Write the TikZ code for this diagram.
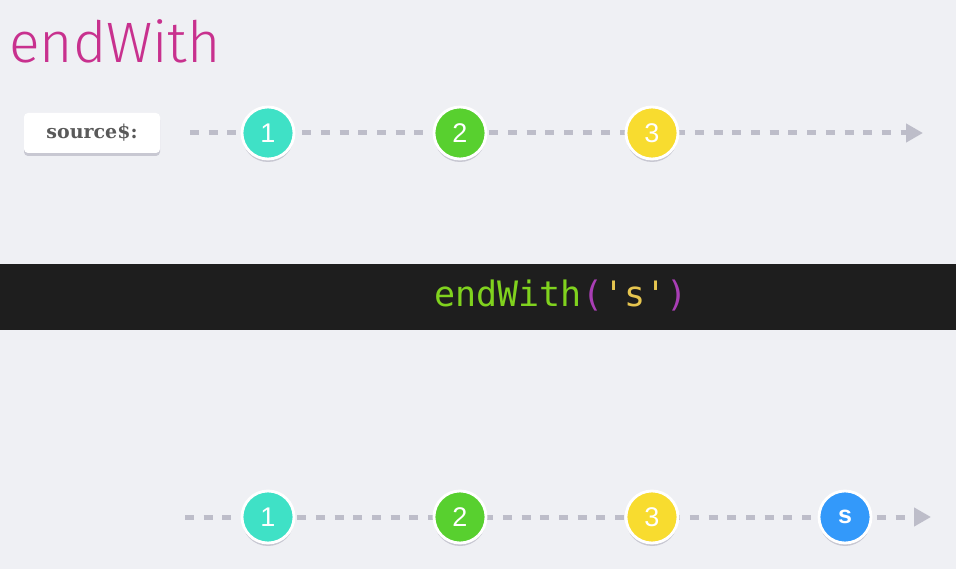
\documentclass[tikz,border=0pt]{standalone}
\usepackage{fontspec}
\setmainfont{Liberation Sans}
\newfontfamily\titlefont{Fira Sans Light}
\newfontfamily\codefont{DejaVu Sans Mono}
\newfontfamily\typefont{DejaVu Serif}
\usetikzlibrary{arrows.meta,shadows}
\definecolor{bg}{HTML}{EFF0F4}
\definecolor{titlec}{HTML}{C8318E}
\definecolor{linec}{HTML}{BDBDC9}
\definecolor{teal}{HTML}{3FE1C6}
\definecolor{grn}{HTML}{58D02F}
\definecolor{yel}{HTML}{F8DC2F}
\definecolor{blu}{HTML}{3399FA}
\definecolor{band}{HTML}{1E1E1E}
\definecolor{codegreen}{HTML}{80D21E}
\definecolor{codepurple}{HTML}{A93EB5}
\definecolor{codeyellow}{HTML}{E6C54F}
\definecolor{shadowc}{HTML}{C8C8D2}
\tikzset{
  marble/.style={circle, fill=#1, draw=white, line width=2.8pt, minimum size=52pt, inner sep=0pt,
    text=white, font=\fontsize{27}{27}\selectfont,
    drop shadow={shadow xshift=0pt, shadow yshift=-3pt, fill=shadowc, opacity=1}},
  timeline/.style={draw=linec, line width=5pt, dash pattern=on 9pt off 9.7pt,
    -{Triangle[length=17pt,width=18pt,fill=linec]}},
  srcbox/.style={fill=white, rounded corners=4pt, minimum width=136pt, minimum height=40pt,
    inner sep=0pt, text=black!65, font=\typefont\bfseries\fontsize{19}{19}\selectfont,
    drop shadow={shadow xshift=0pt, shadow yshift=-3pt, fill=shadowc, opacity=1}},
}
\begin{document}
\begin{tikzpicture}[x=1pt,y=-1pt]
\fill[bg] (0,0) rectangle (956,569);
\useasboundingbox (0,0) rectangle (956,569);
\node[anchor=base west, inner sep=0pt, text=titlec, font=\titlefont\fontsize{57}{57}\selectfont] (title) at (9,63) {endWith};
% source row
\node[srcbox] (src) at (92,133) {source\$:};
\coordinate (s0) at (190,133);
\coordinate (s9) at (923,133);
\draw[timeline] (s0) -- (s9);
\node[marble=teal] (a1) at (268,133) {1};
\node[marble=grn] (a2) at (460,133) {2};
\node[marble=yel] (a3) at (652,133) {3};
% operator band
\fill[band] (0,264) rectangle (956,330);
\node[anchor=base, inner sep=0pt, font=\codefont\fontsize{35}{35}\selectfont] (op) at (561,307)
  {\textcolor{codegreen}{endWith}\textcolor{codepurple}{(}\textcolor{codeyellow}{'s'}\textcolor{codepurple}{)}};
% result row
\coordinate (r0) at (185,517);
\coordinate (r9) at (931,517);
\draw[timeline] (r0) -- (r9);
\node[marble=teal] (b1) at (268,517) {1};
\node[marble=grn] (b2) at (460,517) {2};
\node[marble=yel] (b3) at (652,517) {3};
\node[marble=blu, font=\bfseries\fontsize{25}{25}\selectfont] (b4) at (845,517) {s};
\end{tikzpicture}
\end{document}
